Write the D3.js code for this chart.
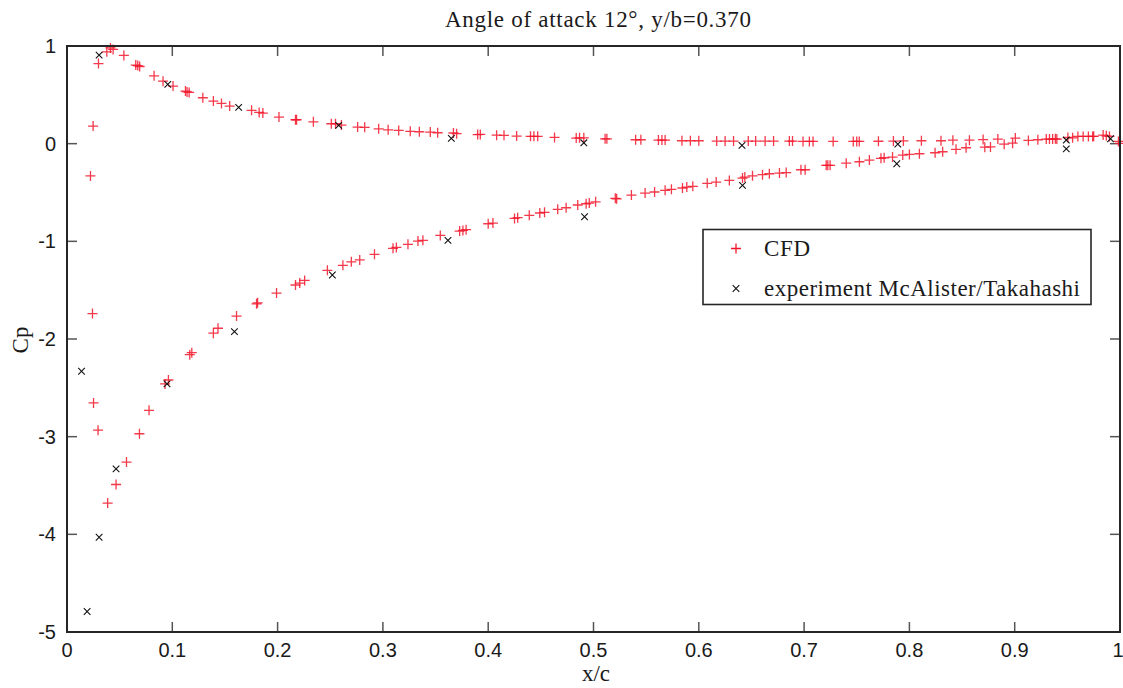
<!DOCTYPE html>
<html>
<head>
<meta charset="utf-8">
<script src="https://cdn.jsdelivr.net/npm/d3@7"></script>
<style>
  html, body { margin: 0; padding: 0; background: #fff; }
  svg { display: block; }
  .tick-label { font-family: "Liberation Sans", Arial, sans-serif; font-size: 20px; fill: #1a1a1a; }
  .serif { font-family: "Liberation Serif", "Times New Roman", serif; fill: #1a1a1a; }
</style>
</head>
<body>
<svg id="chart" width="1123" height="688"></svg>
<script>
// CFD, upper branch (Cp > 0 near leading edge)
const cfdUpperX = [0.0223, 0.0248, 0.0299, 0.0378, 0.0413, 0.0438, 0.054, 0.0653, 0.0672, 0.069,
  0.0827, 0.0912, 0.1007, 0.1125, 0.114, 0.116, 0.129, 0.139, 0.1467, 0.1545,
  0.1753, 0.1825, 0.186, 0.2013, 0.217, 0.218, 0.234, 0.251, 0.255, 0.2606,
  0.276, 0.2827, 0.296, 0.305, 0.315, 0.326, 0.3346, 0.345, 0.352, 0.367,
  0.370, 0.39, 0.3925, 0.408, 0.415, 0.427, 0.4402, 0.4434, 0.447, 0.463,
  0.4836, 0.4867, 0.4908, 0.511, 0.5127, 0.54, 0.545, 0.5617, 0.565, 0.568,
  0.584, 0.592, 0.600, 0.617, 0.625, 0.633, 0.647, 0.654, 0.663, 0.671,
  0.686, 0.689, 0.699, 0.705, 0.7085, 0.7276, 0.7467, 0.75, 0.7524, 0.7706,
  0.7848, 0.7943, 0.8114, 0.83, 0.8413, 0.857, 0.870, 0.884, 0.9006, 0.930,
  0.933, 0.936, 0.9386, 0.9505, 0.960, 0.965, 0.970, 0.974, 0.984, 0.987,
  0.990, 0.9985, 1.0];
const cfdUpperCp = [-0.33, 0.18, 0.82, 0.94, 0.98, 0.965, 0.904, 0.805, 0.80, 0.79,
  0.695, 0.64, 0.59, 0.538, 0.53, 0.525, 0.47, 0.436, 0.412, 0.385,
  0.341, 0.32, 0.313, 0.272, 0.245, 0.245, 0.224, 0.204, 0.204, 0.19,
  0.17, 0.167, 0.152, 0.142, 0.136, 0.126, 0.122, 0.119, 0.112, 0.109,
  0.102, 0.093, 0.095, 0.087, 0.085, 0.078, 0.075, 0.075, 0.075, 0.064,
  0.057, 0.06, 0.06, 0.05, 0.05, 0.04, 0.04, 0.037, 0.037, 0.037,
  0.03, 0.03, 0.03, 0.027, 0.027, 0.027, 0.027, 0.027, 0.027, 0.027,
  0.027, 0.027, 0.023, 0.023, 0.023, 0.023, 0.023, 0.023, 0.023, 0.025,
  0.027, 0.028, 0.03, 0.03, 0.036, 0.036, 0.042, 0.047, 0.057, 0.047,
  0.047, 0.047, 0.05, 0.063, 0.074, 0.074, 0.074, 0.074, 0.088, 0.08,
  0.074, 0.023, 0.002];

// CFD, lower branch (suction peak)
const cfdLowerX = [0.0242, 0.0252, 0.0295, 0.0386, 0.0466, 0.0565, 0.0688, 0.0779, 0.0931, 0.0963,
  0.1166, 0.1185, 0.139, 0.1434, 0.161, 0.18, 0.181, 0.199, 0.217, 0.221,
  0.2257, 0.2473, 0.262, 0.270, 0.278, 0.292, 0.3096, 0.3128, 0.3238, 0.3333,
  0.338, 0.3545, 0.3729, 0.376, 0.379, 0.40, 0.4045, 0.425, 0.428, 0.439,
  0.449, 0.4535, 0.466, 0.474, 0.485, 0.493, 0.496, 0.502, 0.5207, 0.522,
  0.536, 0.549, 0.558, 0.568, 0.574, 0.5845, 0.5886, 0.5943, 0.608, 0.6165,
  0.629, 0.6415, 0.6437, 0.651, 0.6605, 0.667, 0.6766, 0.683, 0.697, 0.701,
  0.721, 0.7225, 0.7247, 0.740, 0.7525, 0.762, 0.773, 0.776, 0.784, 0.7937,
  0.800, 0.8095, 0.8244, 0.8316, 0.8443, 0.8538, 0.8716, 0.877, 0.89, 0.898,
  0.913, 0.922, 0.94, 0.955, 0.975];
const cfdLowerCp = [-1.74, -2.655, -2.934, -3.68, -3.49, -3.26, -2.97, -2.73, -2.46, -2.42,
  -2.16, -2.14, -1.94, -1.89, -1.765, -1.64, -1.63, -1.53, -1.447, -1.427,
  -1.40, -1.297, -1.246, -1.21, -1.19, -1.133, -1.072, -1.062, -1.031, -0.997,
  -0.99, -0.939, -0.895, -0.888, -0.881, -0.82, -0.813, -0.765, -0.758, -0.734,
  -0.71, -0.703, -0.672, -0.656, -0.628, -0.615, -0.608, -0.595, -0.56, -0.565,
  -0.526, -0.506, -0.495, -0.478, -0.468, -0.454, -0.444, -0.437, -0.406, -0.393,
  -0.376, -0.352, -0.342, -0.329, -0.318, -0.308, -0.301, -0.296, -0.267, -0.267,
  -0.222, -0.222, -0.222, -0.2, -0.185, -0.168, -0.15, -0.144, -0.137, -0.117,
  -0.11, -0.103, -0.093, -0.083, -0.058, -0.042, -0.036, -0.033, -0.005, 0.005,
  0.033, 0.04, 0.047, 0.06, 0.075];

// Experiment McAlister/Takahashi
const expX = [0.0191, 0.0138, 0.0305, 0.0466, 0.095, 0.159, 0.252, 0.3618, 0.4915, 0.6415, 0.788, 0.949,
  0.0305, 0.0957, 0.163, 0.258, 0.365, 0.4908, 0.641, 0.789, 0.949, 0.991];
const expCp = [-4.79, -2.33, -4.03, -3.33, -2.46, -1.925, -1.345, -0.99, -0.748, -0.427, -0.206, -0.053,
  0.907, 0.607, 0.372, 0.187, 0.054, 0.009, -0.017, -0.005, 0.037, 0.05];

const xTicks = [0, 0.1, 0.2, 0.3, 0.4, 0.5, 0.6, 0.7, 0.8, 0.9, 1];
const yTicks = [-5, -4, -3, -2, -1, 0, 1];
const xTickLabels = ['0', '0.1', '0.2', '0.3', '0.4', '0.5', '0.6', '0.7', '0.8', '0.9', '1'];
const yTickLabels = ['-5', '-4', '-3', '-2', '-1', '0', '1'];

const titleText = 'Angle of attack 12\u00B0, y/b=0.370';
const seriesNames = ['CFD', 'experiment McAlister/Takahashi'];

document.addEventListener('DOMContentLoaded', () => {
    const svg = d3.select('#chart');
    const plot = { left: 67, right: 1120, top: 46, bottom: 632 };
    const red = '#f2162a';
    const dark = '#262626';

    const x = d3.scaleLinear().domain([0, 1]).range([plot.left, plot.right]);
    const y = d3.scaleLinear().domain([-5, 1]).range([plot.bottom, plot.top]);

    svg.append('rect').attr('width', 1123).attr('height', 688).attr('fill', '#fff');

    // ticks on all four sides, pointing inward (MATLAB style)
    const tickLen = 10;
    const ticks = svg.append('g').attr('stroke', '#555').attr('stroke-width', 1.5);
    xTicks.forEach(t => {
        ticks.append('line').attr('x1', x(t)).attr('x2', x(t)).attr('y1', plot.bottom).attr('y2', plot.bottom - tickLen);
        ticks.append('line').attr('x1', x(t)).attr('x2', x(t)).attr('y1', plot.top).attr('y2', plot.top + tickLen);
    });
    yTicks.forEach(t => {
        ticks.append('line').attr('x1', plot.left).attr('x2', plot.left + tickLen).attr('y1', y(t)).attr('y2', y(t));
        ticks.append('line').attr('x1', plot.right).attr('x2', plot.right - tickLen).attr('y1', y(t)).attr('y2', y(t));
    });

    // tick labels
    svg.append('g').selectAll('text').data(xTicks).join('text')
        .attr('class', 'tick-label')
        .attr('x', d => d === 1 ? x(d) - 2 : x(d)).attr('y', plot.bottom + 25)
        .attr('text-anchor', 'middle')
        .text((d, i) => xTickLabels[i]);
    svg.append('g').selectAll('text').data(yTicks).join('text')
        .attr('class', 'tick-label')
        .attr('x', plot.left - 11).attr('y', d => y(d) + 7)
        .attr('text-anchor', 'end')
        .text((d, i) => yTickLabels[i]);

    // data: CFD '+' markers, experiment 'x' markers
    const plusPath = (px, py, r) => `M${px - r},${py}h${2 * r}M${px},${py - r}v${2 * r}`;
    const crossPath = (px, py, r) => `M${px - r},${py - r}l${2 * r},${2 * r}M${px - r},${py + r}l${2 * r},${-2 * r}`;

    const cfd = cfdUpperX.map((v, i) => [v, cfdUpperCp[i]])
        .concat(cfdLowerX.map((v, i) => [v, cfdLowerCp[i]]));
    const exp = expX.map((v, i) => [v, expCp[i]]);

    svg.append('g').selectAll('path').data(cfd).join('path')
        .attr('d', d => plusPath(x(d[0]), y(d[1]), 5))
        .attr('stroke', red).attr('stroke-opacity', 0.85).attr('stroke-width', 1.3).attr('fill', 'none');

    svg.append('g').selectAll('path').data(exp).join('path')
        .attr('d', d => crossPath(x(d[0]), y(d[1]), 3.3))
        .attr('stroke', '#111').attr('stroke-width', 1.1).attr('fill', 'none');

    // axes frame
    svg.append('rect')
        .attr('x', plot.left).attr('y', plot.top)
        .attr('width', plot.right - plot.left).attr('height', plot.bottom - plot.top)
        .attr('fill', 'none').attr('stroke', dark).attr('stroke-width', 2);

    // title and axis labels
    svg.append('text').attr('class', 'serif')
        .attr('x', 598).attr('y', 27).attr('text-anchor', 'middle')
        .attr('font-size', 23).attr('textLength', 306).attr('lengthAdjust', 'spacing')
        .text(titleText);
    svg.append('text').attr('class', 'serif')
        .attr('x', 596).attr('y', 681).attr('text-anchor', 'middle')
        .attr('font-size', 23)
        .text('x/c');
    svg.append('text').attr('class', 'serif')
        .attr('transform', 'translate(28,340) rotate(-90)')
        .attr('text-anchor', 'middle')
        .attr('font-size', 23)
        .text('Cp');

    // legend
    const legend = svg.append('g');
    legend.append('rect')
        .attr('x', 703).attr('y', 229.5).attr('width', 388).attr('height', 75)
        .attr('fill', '#fff').attr('stroke', dark).attr('stroke-width', 1.6);
    legend.append('path').attr('d', plusPath(736, 248.5, 5))
        .attr('stroke', red).attr('stroke-width', 1.3).attr('fill', 'none');
    legend.append('path').attr('d', crossPath(736, 288.5, 3.3))
        .attr('stroke', '#111').attr('stroke-width', 1.1).attr('fill', 'none');
    legend.append('text').attr('class', 'serif')
        .attr('x', 764).attr('y', 256).attr('font-size', 23)
        .attr('textLength', 46).attr('lengthAdjust', 'spacing')
        .text(seriesNames[0]);
    legend.append('text').attr('class', 'serif')
        .attr('x', 764).attr('y', 296).attr('font-size', 23)
        .attr('textLength', 316).attr('lengthAdjust', 'spacing')
        .text(seriesNames[1]);
});
</script>
</body>
</html>
